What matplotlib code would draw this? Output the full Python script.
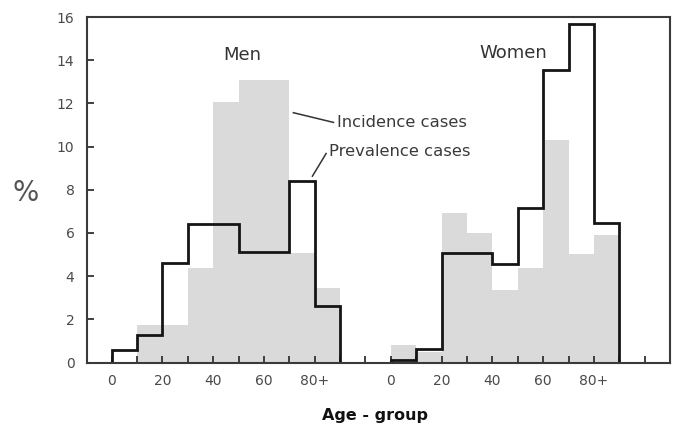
"""Age-group distribution of incidence and prevalence cases, men vs women."""

import matplotlib
matplotlib.use("Agg")
import matplotlib.pyplot as plt
import numpy as np

plt.rcParams["font.family"] = ["DejaVu Sans"]

# Age groups 0-9, 10-19, ..., 80+  (percent of cases)
age_groups = ["0", "10", "20", "30", "40", "50", "60", "70", "80+"]
men_incidence = [0.0, 1.74, 1.74, 4.38, 12.08, 13.08, 13.08, 5.09, 3.45]
men_prevalence = [0.58, 1.27, 4.59, 6.41, 6.41, 5.13, 5.13, 8.42, 2.62]
women_incidence = [0.81, 0.5, 6.91, 5.99, 3.36, 4.38, 10.3, 5.02, 5.9]
women_prevalence = [0.12, 0.62, 5.06, 5.06, 4.56, 7.14, 13.54, 15.67, 6.48]
tick_text = ["0", "", "20", "", "40", "", "60", "", "80+", ""]

GRAY = "#dadada"
LINE = "#151515"
TEXT = "#4a4a4a"

fig = plt.figure(figsize=(6.81, 4.28), dpi=100)
ax = fig.add_axes([0.1278, 0.1530, 0.8561, 0.8072])

# men start at bin 0, women after a gap of two bins
starts = {"men": 0, "women": 11}
for key, inc, prev in [("men", men_incidence, men_prevalence),
                       ("women", women_incidence, women_prevalence)]:
    edges = starts[key] + np.arange(len(age_groups) + 1)
    ax.bar(edges[:-1], inc, width=1.0, align="edge", color=GRAY,
           edgecolor="none", zorder=1)
    ax.stairs(prev, edges, baseline=0, color=LINE, linewidth=2.0, zorder=3)

ax.set_xlim(-0.97, 22.0)
ax.set_ylim(0, 16)

# x ticks: every bin edge, labels only every 20 years
men_ticks = list(range(0, 10))
women_ticks = list(range(10, 22))
ax.set_xticks(men_ticks + women_ticks)
ax.set_xticklabels(tick_text + [""] + tick_text + [""])
ax.set_yticks(np.arange(0, 17, 2))

ax.tick_params(axis="both", direction="in", colors="#333333", labelcolor=TEXT,
               labelsize=10, width=1.3)
ax.tick_params(axis="x", length=5, pad=8)
ax.tick_params(axis="y", length=5, pad=9)

for sp in ax.spines.values():
    sp.set_linewidth(1.5)
    sp.set_color("#3a3a3a")
    sp.set_zorder(4)

ax.text(5.14, 14.24, "Men", ha="center", va="center", fontsize=13, color="#333333")
ax.text(15.83, 14.33, "Women", ha="center", va="center", fontsize=13, color="#333333")

ax.plot([7.16, 8.74], [11.57, 11.12], color="#333333", lw=1.1, zorder=5)
ax.text(8.86, 11.13, "Incidence cases", ha="left", va="center", fontsize=11.8, color="#3a3a3a")
ax.plot([7.91, 8.45], [8.63, 9.68], color="#333333", lw=1.1, zorder=5)
ax.text(8.58, 9.76, "Prevalence cases", ha="left", va="center", fontsize=11.8, color="#3a3a3a")

ax.set_ylabel("%", rotation=0, fontsize=20, color="#555555", labelpad=22, va="center")
ax.yaxis.set_label_coords(-0.105, 0.49)
ax.set_xlabel("Age - group", fontsize=11.5, fontweight="bold", color="#111111")
ax.xaxis.set_label_coords((375 - 87) / 583, -0.132)

fig.savefig("out.png", dpi=100)
